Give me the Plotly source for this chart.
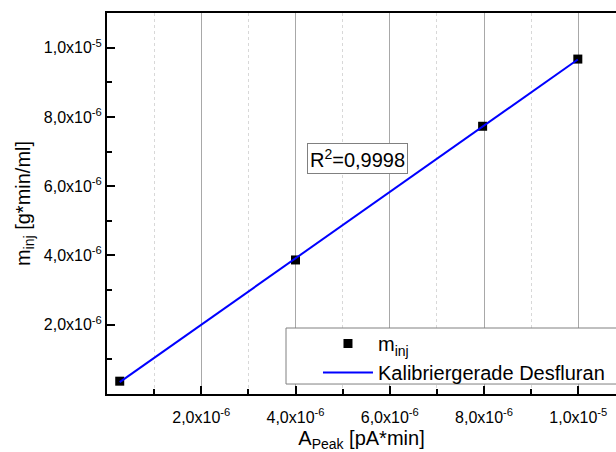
import plotly.graph_objects as go
import numpy as np

# Data
a_peak = [0.27e-6, 4.00e-6, 7.97e-6, 9.99e-6]      # x: A_Peak [pA*min]
m_inj = [0.37e-6, 3.87e-6, 7.73e-6, 9.67e-6]       # y: m_inj [g*min/ml]

x_tickvals = [2e-6, 4e-6, 6e-6, 8e-6, 1e-5]
x_ticktext = ["2,0x10<sup>-6</sup>", "4,0x10<sup>-6</sup>", "6,0x10<sup>-6</sup>",
              "8,0x10<sup>-6</sup>", "1,0x10<sup>-5</sup>"]
y_tickvals = [2e-6, 4e-6, 6e-6, 8e-6, 1e-5]
y_ticktext = ["2,0x10<sup>-6</sup>", "4,0x10<sup>-6</sup>", "6,0x10<sup>-6</sup>",
              "8,0x10<sup>-6</sup>", "1,0x10<sup>-5</sup>"]
r2_text = "R<sup>2</sup>=0,9998"

# linear calibration fit through the measured points
slope, intercept = np.polyfit(a_peak, m_inj, 1)
fit_x = [min(a_peak), max(a_peak)]
fit_y = [slope * v + intercept for v in fit_x]

FONT = "Liberation Sans, Arial, sans-serif"

fig = go.Figure()
fig.add_trace(go.Scatter(
    x=a_peak, y=m_inj, mode="markers", name="m<sub>inj</sub>",
    marker=dict(symbol="square", size=9, color="black"),
))
fig.add_trace(go.Scatter(
    x=fit_x, y=fit_y, mode="lines", name="Kalibriergerade Desfluran",
    line=dict(color="#0000ff", width=2),
))

fig.add_annotation(
    x=5.32e-6, y=6.79e-6, xref="x", yref="y", text=r2_text, showarrow=False,
    font=dict(family=FONT, size=20, color="black"),
    bgcolor="white", bordercolor="#808080", borderwidth=1, borderpad=2,
)

# legend frame (extends past the right edge like the reference)
fig.add_shape(
    type="rect", xref="paper", yref="paper",
    x0=0.3517, x1=1.3, y0=0.0262, y1=0.1732,
    line=dict(color="#808080", width=1), fillcolor="white", layer="above",
)

fig.update_layout(
    width=616, height=452,
    margin=dict(l=107, r=0, t=13, b=58),
    paper_bgcolor="white", plot_bgcolor="white",
    font=dict(family=FONT, size=16, color="black"),
    showlegend=True,
    legend=dict(
        x=0.4145, y=0.1837, xanchor="left", yanchor="top",
        bgcolor="rgba(0,0,0,0)", borderwidth=0,
        font=dict(family=FONT, size=20, color="black"),
        tracegroupgap=0, itemwidth=50,
    ),
    xaxis=dict(
        range=[0, 10.8e-6], tickvals=x_tickvals, ticktext=x_ticktext,
        showline=True, linecolor="black", linewidth=2, mirror=True,
        ticks="inside", ticklen=8, tickwidth=1.5, tickcolor="black",
        showgrid=True, gridcolor="#a8a8a8", gridwidth=1,
        zeroline=False,
        minor=dict(dtick=1e-6, tick0=0, ticks="inside", ticklen=5, tickcolor="black",
                   showgrid=True, gridcolor="#d8d8d8", griddash="dot", gridwidth=1),
        title=dict(text="A<sub>Peak</sub> [pA*min]", font=dict(family=FONT, size=20), standoff=11),
        tickfont=dict(family=FONT, size=16),
        ticklabelstandoff=8,
    ),
    yaxis=dict(
        range=[0, 1.1e-5], tickvals=y_tickvals, ticktext=y_ticktext,
        showline=True, linecolor="black", linewidth=2, mirror=False,
        ticks="inside", ticklen=8, tickwidth=1.5, tickcolor="black",
        showgrid=False, zeroline=False,
        minor=dict(dtick=1e-6, tick0=0, ticks="inside", ticklen=5, tickcolor="black", showgrid=False),
        title=dict(text="m<sub>inj</sub> [g*min/ml]", font=dict(family=FONT, size=20), standoff=8),
        tickfont=dict(family=FONT, size=16),
    ),
)

fig.write_html("out.html")
